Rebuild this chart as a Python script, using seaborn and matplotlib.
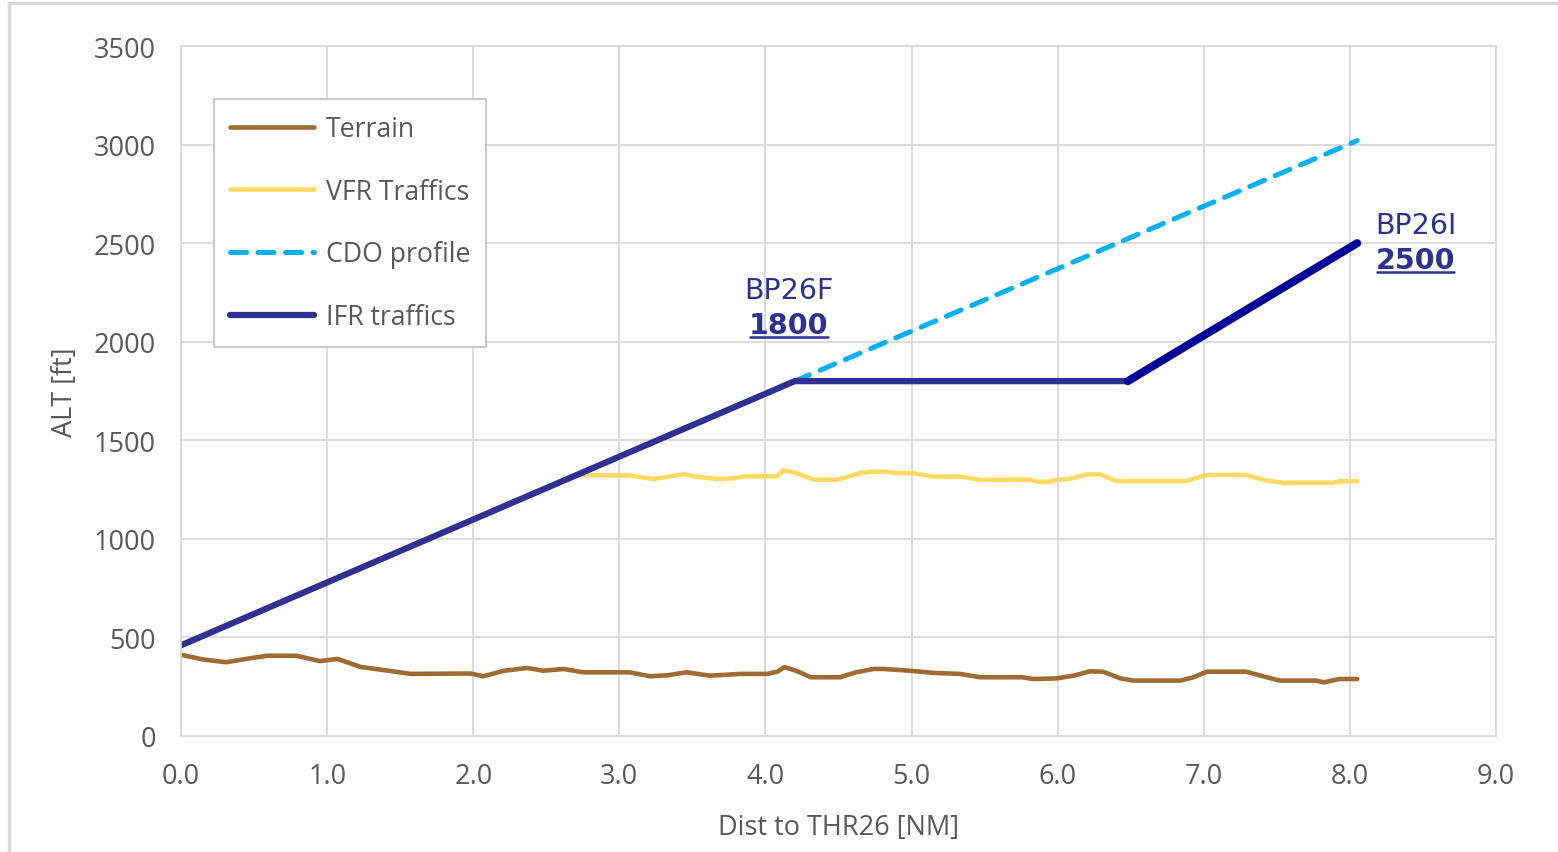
import matplotlib.pyplot as plt
import matplotlib.lines as mlines
import pandas as pd
import seaborn as sns

# Data
terrain_x = [0.0, 0.15, 0.31, 0.47, 0.59, 0.79, 0.95, 1.07, 1.23, 1.41, 1.57, 1.98, 2.07,
             2.21, 2.37, 2.48, 2.62, 2.75, 3.07, 3.21, 3.33, 3.46, 3.62, 3.83, 4.01, 4.08,
             4.13, 4.21, 4.31, 4.51, 4.62, 4.74, 4.81, 4.99, 5.15, 5.33, 5.47, 5.76, 5.83,
             5.99, 6.11, 6.22, 6.31, 6.43, 6.52, 6.84, 6.93, 7.02, 7.29, 7.43, 7.52, 7.77,
             7.82, 7.93, 8.05]
terrain_y = [412, 388, 374, 394, 407, 407, 380, 391, 350, 332, 315, 317, 303,
             331, 345, 331, 340, 323, 323, 303, 308, 323, 306, 315, 315, 326,
             349, 331, 298, 298, 323, 340, 340, 331, 320, 315, 298, 298, 289,
             292, 306, 328, 326, 292, 281, 281, 298, 326, 326, 298, 281, 281,
             272, 289, 289]

vfr_x = [2.73, 3.07, 3.23, 3.35, 3.44, 3.51, 3.67, 3.78, 3.85, 4.08, 4.12, 4.21, 4.33,
         4.49, 4.65, 4.72, 4.83, 4.88, 5.01, 5.15, 5.33, 5.47, 5.81, 5.86, 5.95, 5.99,
         6.08, 6.20, 6.29, 6.40, 6.88, 7.02, 7.29, 7.43, 7.54, 7.89, 7.93, 8.05]
vfr_y = [1324, 1321, 1304, 1317, 1329, 1317, 1304, 1307, 1317, 1317, 1349, 1334, 1300,
         1300, 1333, 1341, 1341, 1333, 1333, 1316, 1316, 1299, 1300, 1290, 1290, 1300,
         1304, 1327, 1327, 1293, 1293, 1324, 1324, 1295, 1285, 1285, 1292, 1292]

cdo_x = [4.2, 8.05]
cdo_y = [1800, 3020]

ifr_x = [0.0, 4.2, 6.48]
ifr_y = [460, 1800, 1800]
ifr_climb_x = [6.48, 8.05]
ifr_climb_y = [1800, 2500]

x_ticks = [0, 1, 2, 3, 4, 5, 6, 7, 8, 9]
y_ticks = [0, 500, 1000, 1500, 2000, 2500, 3000, 3500]

sns.set_style('white')
plt.rcParams['font.family'] = ['Open Sans', 'DejaVu Sans']

grey_txt = '#595959'
grid_c = '#D9D9D9'

fig = plt.figure(figsize=(15.58, 8.53), dpi=100)
ax = fig.add_axes([0.1162, 0.136, 0.844, 0.8089])

sns.lineplot(x=terrain_x, y=terrain_y, ax=ax, color='#A06A33', lw=3.3, label='Terrain',
             sort=False, estimator=None)
sns.lineplot(x=vfr_x, y=vfr_y, ax=ax, color='#FFD966', lw=3.3, label='VFR Traffics',
             sort=False, estimator=None)
sns.lineplot(x=cdo_x, y=cdo_y, ax=ax, color='#00B0F0', lw=3.6, label='CDO profile',
             sort=False, estimator=None, dashes=False)
ax.lines[-1].set_dashes([3.2, 2.3])
ax.lines[-1].set_dash_capstyle('round')
sns.lineplot(x=ifr_x, y=ifr_y, ax=ax, color='#2E3192', lw=4.5, label='IFR traffics',
             sort=False, estimator=None)
sns.lineplot(x=ifr_climb_x, y=ifr_climb_y, ax=ax, color='#000099', lw=5.8,
             sort=False, estimator=None, legend=False)

ax.set_xlim(0, 9)
ax.set_ylim(0, 3500)
ax.set_xticks(x_ticks)
ax.set_xticklabels([f'{t:.1f}' for t in x_ticks])
ax.set_yticks(y_ticks)
ax.set_yticklabels([str(t) for t in y_ticks])
ax.tick_params(axis='both', labelsize=19.5, colors=grey_txt, length=0)
ax.tick_params(axis='x', pad=19)
ax.tick_params(axis='y', pad=18)
ax.grid(True, color=grid_c, lw=1.3)
ax.set_axisbelow(True)
for s in ax.spines.values():
    s.set_color(grid_c)
    s.set_linewidth(1.3)

ax.set_xlabel('Dist to THR26 [NM]', fontsize=19.5, color=grey_txt, labelpad=16)
ax.set_ylabel('ALT [ft]', fontsize=19.5, color=grey_txt, labelpad=11)

leg = ax.legend(loc='upper left', bbox_to_anchor=(0.025, 0.923), fontsize=19.2,
                handlelength=3.15, labelspacing=1.3, borderpad=0.6, handletextpad=0.45,
                fancybox=False, framealpha=1, edgecolor='#BFBFBF', borderaxespad=0)
leg.get_frame().set_linewidth(1.2)
for t in leg.get_texts():
    t.set_color(grey_txt)

# waypoint labels
lab_c = '#2E3192'
ax.text(4.16, 2262, 'BP26F', ha='center', va='center', fontsize=20.5, color=lab_c,
        family='DejaVu Sans')
t1 = ax.text(4.16, 2085, '1800', ha='center', va='center', fontsize=20.5, color=lab_c,
             family='DejaVu Sans', fontweight='bold')
ax.text(8.45, 2592, 'BP26I', ha='center', va='center', fontsize=20.5, color=lab_c,
        family='DejaVu Sans')
t2 = ax.text(8.45, 2414, '2500', ha='center', va='center', fontsize=20.5, color=lab_c,
             family='DejaVu Sans', fontweight='bold')

# underline the bold numbers
r = fig.canvas.get_renderer()
inv = fig.transFigure.inverted()
for t in (t1, t2):
    bb = t.get_window_extent(renderer=r)
    (x0, y0), (x1, _) = inv.transform([(bb.x0 + 1, bb.y0 + 2), (bb.x1 - 1, bb.y0 + 2)])
    fig.add_artist(mlines.Line2D([x0, x1], [y0, y0], color=lab_c, lw=1.8))

# light frame round the picture (top and left visible)
fig.add_artist(mlines.Line2D([0.0055, 0.0055], [0.0, 0.9955], color='#D9D9D9', lw=2.5))
fig.add_artist(mlines.Line2D([0.0055, 1.0], [0.9955, 0.9955], color='#D9D9D9', lw=2.5))

fig.savefig('out.png', dpi=100)
